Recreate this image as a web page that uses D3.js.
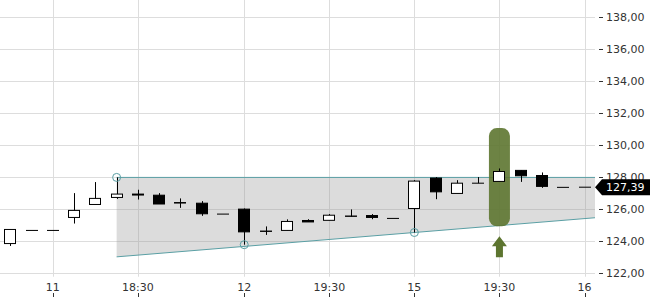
<!DOCTYPE html>
<html lang="en">
<head>
    <meta charset="UTF-8">
    <title>Candlestick chart</title>
    <script src="https://d3js.org/d3.v7.min.js"></script>
    <style>
        body {
            margin: 0;
            background: #fff;
        }
        svg text {
            font-family: "DejaVu Sans", sans-serif;
            font-size: 11px;
            fill: #333;
        }
    </style>
</head>
<body>
    <svg width="650" height="300"></svg>
    <script>
        // 15 minute candles, gaps between sessions removed
        const categories = [
            "10 19:00", "10 19:15",
            "11 17:30", "11 17:45", "11 18:00", "11 18:15", "11 18:30", "11 18:45", "11 19:00", "11 19:15", "11 19:30",
            "12 18:30", "12 18:45", "12 19:00", "12 19:15", "12 19:30", "12 19:45", "12 20:00", "12 20:15",
            "15 18:30", "15 18:45", "15 19:00", "15 19:15", "15 19:30", "15 19:45", "15 20:00", "15 20:15",
            "16 18:30"
        ];
        const openV  = [123.87, 124.69, 124.69, 125.50, 126.31, 126.75, 126.96, 126.89, 126.43, 126.39, 125.71,
                        126.02, 124.65, 124.69, 125.31, 125.32, 125.59, 125.62, 125.44,
                        126.06, 127.96, 127.00, 127.64, 127.75, 128.44, 128.12, 127.38, 127.39];
        const highV  = [124.75, 124.69, 124.69, 127.02, 127.71, 128.00, 127.23, 127.02, 126.69, 126.52, 125.71,
                        126.06, 124.94, 125.38, 125.39, 125.71, 126.00, 125.71, 125.44,
                        127.83, 128.02, 127.83, 128.02, 128.56, 128.44, 128.31, 127.38, 127.39];
        const lowV   = [123.72, 124.69, 124.69, 125.12, 126.31, 126.66, 126.62, 126.34, 126.10, 125.60, 125.71,
                        123.80, 124.41, 124.69, 125.22, 125.32, 125.55, 125.39, 125.44,
                        124.56, 126.64, 127.00, 127.64, 127.75, 127.72, 127.35, 127.38, 127.39];
        const closeV = [124.75, 124.69, 124.69, 125.94, 126.69, 126.96, 126.90, 126.34, 126.40, 125.73, 125.71,
                        124.60, 124.63, 125.25, 125.22, 125.64, 125.57, 125.50, 125.44,
                        127.77, 127.10, 127.64, 127.64, 128.37, 128.10, 127.44, 127.38, 127.39];

        const tickCats = ["11 17:30", "11 18:30", "12 18:30", "12 19:30", "15 18:30", "15 19:30", "16 18:30"];
        const tickLabels = ["11", "18:30", "12", "19:30", "15", "19:30", "16"];
        const yTicks = [122, 124, 126, 128, 130, 132, 134, 136, 138];

        // channel: flat top from the high at 11 18:15, rising support through two lows
        const channelStart = "11 18:15";
        const channelTop = 128.0;
        const supportPts = [["12 18:45", 123.80], ["15 18:30", 124.56]];
        const markerPts = [["11 18:15", 128.0], ["12 18:30", 123.80], ["15 18:30", 124.56]];

        const signalCat = "15 19:30";
        const signalHi = 131.08, signalLo = 124.95;
        const lastPrice = 127.39;

        const plotW = 595, plotH = 276.7;
        const teal = "#5a9fa4", olive = "#5d7530";

        const data = categories.map(function(c, i) {
            return { cat: c, o: openV[i], h: highV[i], l: lowV[i], c: closeV[i] };
        });

        const svg = d3.select("svg");

        const x = d3.scalePoint()
            .domain(categories)
            .range([10.3, 584.5]);
        const step = x.step();
        const y = d3.scaleLinear()
            .domain([121.8, 139.08])
            .range([plotH, 0]);

        // grid
        svg.append("g").selectAll("line")
            .data(yTicks)
            .enter().append("line")
            .attr("x1", 0).attr("x2", plotW)
            .attr("y1", d => Math.round(y(d)) + 0.5)
            .attr("y2", d => Math.round(y(d)) + 0.5)
            .attr("stroke", "#dddddd");
        svg.append("g").selectAll("line")
            .data(tickCats)
            .enter().append("line")
            .attr("x1", d => Math.round(x(d)) + 0.5)
            .attr("x2", d => Math.round(x(d)) + 0.5)
            .attr("y1", 0).attr("y2", plotH)
            .attr("stroke", "#dddddd");

        // channel shading
        const idx = d => categories.indexOf(d);
        const sSlope = (supportPts[1][1] - supportPts[0][1]) / (idx(supportPts[1][0]) - idx(supportPts[0][0]));
        const supportAt = i => supportPts[0][1] + (i - idx(supportPts[0][0])) * sSlope;
        const iStart = idx(channelStart);
        const iEnd = iStart + (plotW - x(channelStart)) / step;
        const xi = i => x(categories[0]) + i * step;
        const poly = [
            [xi(iStart), y(channelTop)],
            [xi(iEnd), y(channelTop)],
            [xi(iEnd), y(supportAt(iEnd))],
            [xi(iStart), y(supportAt(iStart))]
        ];
        svg.append("path")
            .attr("d", d3.line()(poly) + "Z")
            .attr("fill", "rgba(150,150,150,0.33)");
        svg.append("line")
            .attr("x1", poly[0][0]).attr("y1", poly[0][1])
            .attr("x2", poly[1][0]).attr("y2", poly[1][1])
            .attr("stroke", teal);
        svg.append("line")
            .attr("x1", poly[3][0]).attr("y1", poly[3][1])
            .attr("x2", poly[2][0]).attr("y2", poly[2][1])
            .attr("stroke", teal);

        // signal highlight
        const sx = x(signalCat);
        svg.append("rect")
            .attr("x", sx - 10.5).attr("width", 21)
            .attr("y", y(signalHi)).attr("height", y(signalLo) - y(signalHi))
            .attr("rx", 8).attr("ry", 8)
            .attr("fill", olive).attr("fill-opacity", 0.9);
        const ay = y(signalLo) + 10;
        svg.append("path")
            .attr("d", d3.line()([
                [sx, ay], [sx + 7.5, ay + 10], [sx + 3.5, ay + 10], [sx + 3.5, ay + 21],
                [sx - 3.5, ay + 21], [sx - 3.5, ay + 10], [sx - 7.5, ay + 10]
            ]) + "Z")
            .attr("fill", olive);

        // candles
        const cw = 12;
        const g = svg.append("g");
        g.selectAll(".wick")
            .data(data)
            .enter().append("line")
            .attr("class", "wick")
            .attr("x1", d => Math.round(x(d.cat)) + 0.5)
            .attr("x2", d => Math.round(x(d.cat)) + 0.5)
            .attr("y1", d => y(d.h))
            .attr("y2", d => y(d.l))
            .attr("stroke", "#000");
        g.selectAll(".body")
            .data(data)
            .enter().append("rect")
            .attr("class", "body")
            .attr("x", d => Math.round(x(d.cat)) - cw / 2 + 0.5)
            .attr("width", cw - 1)
            .attr("y", d => y(Math.max(d.o, d.c)))
            .attr("height", d => Math.max(0.01, y(Math.min(d.o, d.c)) - y(Math.max(d.o, d.c))))
            .attr("fill", d => d.c >= d.o ? "#fff" : "#000")
            .attr("stroke", "#000");

        // markers on the channel anchor points
        svg.append("g").selectAll("circle")
            .data(markerPts)
            .enter().append("circle")
            .attr("cx", d => x(d[0]))
            .attr("cy", d => y(d[1]))
            .attr("r", 4)
            .attr("fill", "none")
            .attr("stroke", teal);

        // y axis on the right
        const ya = svg.append("g");
        ya.selectAll("line")
            .data(yTicks)
            .enter().append("line")
            .attr("x1", 599).attr("x2", 603)
            .attr("y1", d => Math.round(y(d)) + 0.5)
            .attr("y2", d => Math.round(y(d)) + 0.5)
            .attr("stroke", "#333");
        ya.selectAll("text")
            .data(yTicks)
            .enter().append("text")
            .attr("x", 606)
            .attr("y", d => y(d))
            .attr("dy", "0.35em")
            .text(d => d3.format(".2f")(d).replace(".", ","));

        // x axis
        const xa = svg.append("g");
        xa.selectAll("text")
            .data(tickCats)
            .enter().append("text")
            .attr("x", d => x(d))
            .attr("y", 291)
            .attr("text-anchor", "middle")
            .text((d, i) => tickLabels[i]);
        xa.selectAll("line")
            .data(tickCats)
            .enter().append("line")
            .attr("x1", d => Math.round(x(d)) + 0.5)
            .attr("x2", d => Math.round(x(d)) + 0.5)
            .attr("y1", 293).attr("y2", 297)
            .attr("stroke", "#333");

        // last price badge
        const ly = y(lastPrice);
        svg.append("path")
            .attr("d", d3.line()([[595, ly], [602, ly - 8], [650, ly - 8], [650, ly + 8], [602, ly + 8]]) + "Z")
            .attr("fill", "#000");
        svg.append("text")
            .attr("x", 606)
            .attr("y", ly)
            .attr("dy", "0.35em")
            .style("fill", "#fff")
            .text(d3.format(".2f")(lastPrice).replace(".", ","));
    </script>
</body>
</html>
